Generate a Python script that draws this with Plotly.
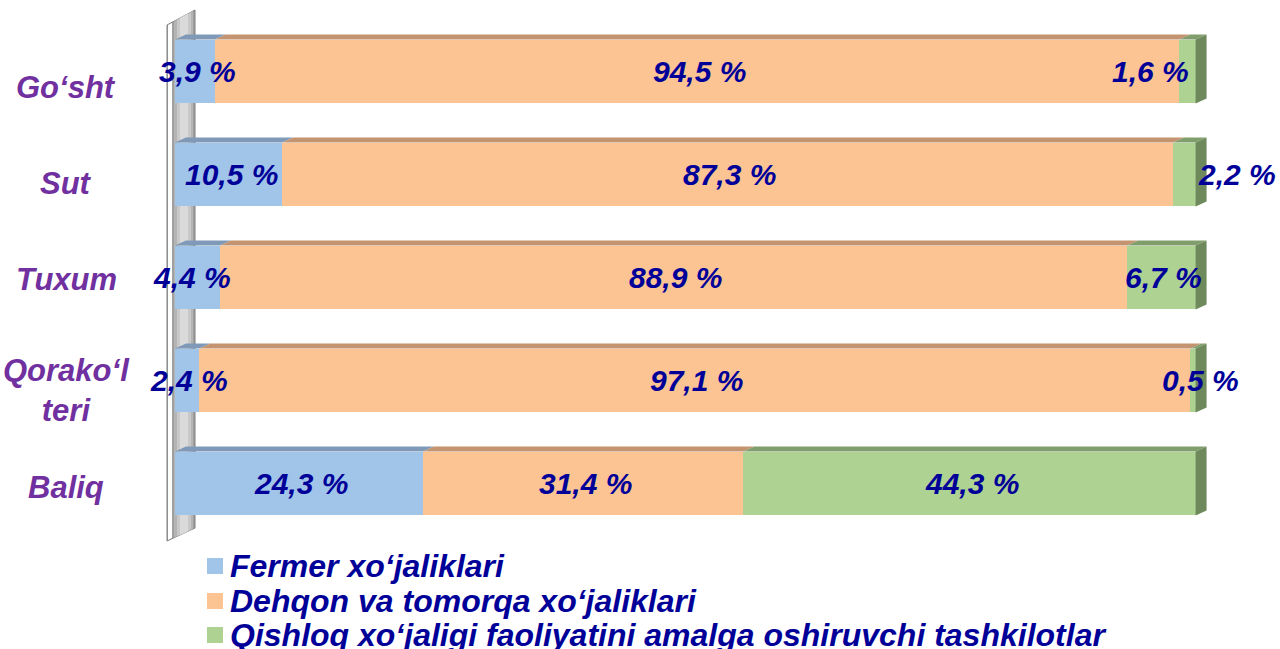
import plotly.graph_objects as go

# ---------------- data ----------------
categories = ["Go‘sht", "Sut", "Tuxum", "Qorako‘l<br>teri", "Baliq"]
series_names = ["Fermer xo‘jaliklari",
                "Dehqon va tomorqa xo‘jaliklari",
                "Qishloq xo‘jaligi faoliyatini amalga oshiruvchi tashkilotlar"]
fermer = [3.9, 10.5, 4.4, 2.4, 24.3]
dehqon = [94.5, 87.3, 88.9, 97.1, 31.4]
qishloq = [1.6, 2.2, 6.7, 0.5, 44.3]

# ---------------- style ----------------
face_colors = ["#A0C5E8", "#FCC493", "#ADD292"]
top_colors = ["#7F9AB8", "#C3946F", "#809E6C"]
side_color = "#6E8A5C"
label_color = "#000099"
cat_color = "#7030A0"
FONT = "Liberation Sans, Arial, sans-serif"

W, H = 1280, 649
ML, MR, MT, MB = 175, 64, 20, 114
XMAX = 102
plot_w = W - ML - MR
plot_h = H - MT - MB
px_per_x = plot_w / XMAX
px_per_y = plot_h / len(categories)
BAR_W = 0.62
DX = 11 / px_per_x      # 3D depth offset in data units
DY = 5 / px_per_y

# per-label horizontal nudges (px), like Excel's placement
label_xshift = [[3, 2, -37], [3, 2, 53], [-5, 2, 2], [2, 2, 7], [2, 2, 2]]
cat_yshift = [-16, -9, -2, -10, -4]

n = len(categories)
ypos = [n - 1 - i for i in range(n)]
series = [fermer, dehqon, qishloq]

fig = go.Figure()
for s, vals in enumerate(series):
    fig.add_trace(go.Bar(
        y=ypos, x=vals, orientation="h", name=series_names[s],
        width=BAR_W, marker=dict(color=face_colors[s], line=dict(width=0)),
        showlegend=False, hoverinfo="x+name"))

shapes = []
annotations = []


def pxx(px):
    return (px - ML) / plot_w


def pxy(py):
    return (H - MB - py) / plot_h


# back wall (left)
shapes.append(dict(type="path", xref="paper", yref="paper", layer="below",
                   path=f"M {pxx(167)},{pxy(25)} L {pxx(195)},{pxy(10)} L {pxx(195)},{pxy(528)} L {pxx(167)},{pxy(541)} Z",
                   fillcolor="#A0A0A0", line=dict(color="#7F7F7F", width=1)))
for (a, b, c) in [(174, 193, "#B4B4B4"), (177, 191, "#C8C8C8"), (180, 188, "#DADADA")]:
    ya = 25 - (a - 167) * 15 / 28
    yb = 25 - (b - 167) * 15 / 28
    shapes.append(dict(type="path", xref="paper", yref="paper", layer="below",
                       path=f"M {pxx(a)},{pxy(ya)} L {pxx(b)},{pxy(yb)} L {pxx(b)},{pxy(541 - (b - 167) * 13 / 28)} L {pxx(a)},{pxy(541 - (a - 167) * 13 / 28)} Z",
                       fillcolor=c, line=dict(width=0)))
shapes.append(dict(type="path", xref="paper", yref="paper", layer="below",
                   path=f"M {pxx(168)},{pxy(25)} L {pxx(172)},{pxy(23)} L {pxx(172)},{pxy(538)} L {pxx(168)},{pxy(540)} Z",
                   fillcolor="#FFFFFF", line=dict(width=0)))

# 3D top faces, right side face, data labels
for i in range(n):
    yc = ypos[i]
    yt = yc + BAR_W / 2
    yb = yc - BAR_W / 2
    cum = 0.0
    for s, vals in enumerate(series):
        x0, x1 = cum, cum + vals[i]
        shapes.append(dict(type="path", xref="x", yref="y", layer="above",
                           path=f"M {x0},{yt} L {x1},{yt} L {x1 + DX},{yt + DY} L {x0 + DX},{yt + DY} Z",
                           fillcolor=top_colors[s], line=dict(width=0)))
        annotations.append(dict(x=(x0 + x1) / 2, y=yc, xref="x", yref="y",
                                text=f"<b><i>{vals[i]:.1f}".replace(".", ",") + " %</i></b>",
                                showarrow=False, xshift=label_xshift[i][s],
                                font=dict(family=FONT, size=30, color=label_color)))
        cum = x1
    shapes.append(dict(type="path", xref="x", yref="y", layer="above",
                       path=f"M {cum},{yb} L {cum},{yt} L {cum + DX},{yt + DY} L {cum + DX},{yb + DY} Z",
                       fillcolor=side_color, line=dict(width=0)))
    # category label
    annotations.append(dict(x=pxx(66), y=yc, xref="paper", yref="y",
                            text=f"<b><i>{categories[i]}</i></b>", showarrow=False,
                            xanchor="center", yshift=cat_yshift[i], align="center",
                            font=dict(family=FONT, size=31, color=cat_color)))

# manual legend
legend_y = [566, 601, 635]
for s in range(3):
    shapes.append(dict(type="rect", xref="paper", yref="paper",
                       x0=pxx(207), x1=pxx(223), y0=pxy(legend_y[s] + 8), y1=pxy(legend_y[s] - 8),
                       fillcolor=face_colors[s], line=dict(width=0)))
    annotations.append(dict(x=pxx(228), y=pxy(legend_y[s]), xref="paper", yref="paper",
                            xanchor="left", yanchor="middle", showarrow=False,
                            text=f"<b><i>{series_names[s]}</i></b>",
                            font=dict(family=FONT, size=32, color=label_color)))

fig.update_layout(
    width=W, height=H, barmode="stack",
    margin=dict(l=ML, r=MR, t=MT, b=MB),
    paper_bgcolor="white", plot_bgcolor="white",
    xaxis=dict(range=[0, XMAX], visible=False, fixedrange=True),
    yaxis=dict(range=[-0.5, n - 0.5], visible=False, fixedrange=True),
    shapes=shapes, annotations=annotations, showlegend=False,
    font=dict(family=FONT),
)

fig.write_html("out.html", config={"displayModeBar": False},
               post_script="document.body.style.margin='0';document.body.style.overflow='hidden';")
